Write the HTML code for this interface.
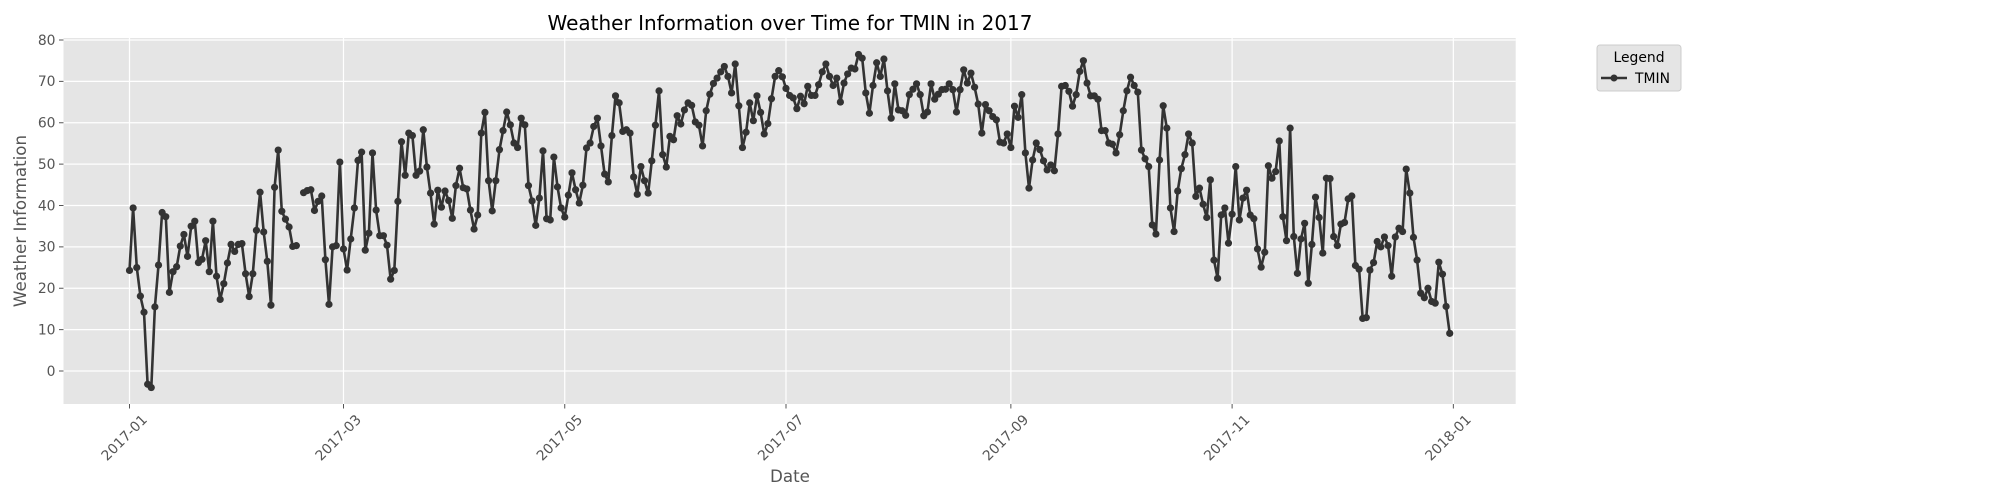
<!DOCTYPE html>
<html><head><meta charset="utf-8">
<style>
html,body{margin:0;padding:0;background:#fff;}
svg{display:block;font-family:"DejaVu Sans","Liberation Sans",sans-serif;}
</style></head>
<body>
<svg id="chart" width="2000" height="500" viewBox="0 0 2000 500" xmlns="http://www.w3.org/2000/svg">
  <text x="790" y="30" font-size="20" text-anchor="middle" fill="#000">Weather Information over Time for TMIN in 2017</text>
  <rect x="63.5" y="38" width="1452.2" height="366" fill="#E5E5E5"/>
  <g id="grid"></g>
  <g id="axes"></g>
  <g id="series"></g>
  <text x="790" y="482" font-size="16.7" text-anchor="middle" fill="#555">Date</text>
  <text x="0" y="0" font-size="16.7" text-anchor="middle" fill="#555" transform="translate(26,221) rotate(-90)">Weather Information</text>
  <g>
    <rect x="1597" y="45" width="84" height="46" rx="3" fill="#E5E5E5" stroke="#CCCCCC" stroke-width="1"/>
    <text x="1639" y="62" font-size="13.9" text-anchor="middle" fill="#000">Legend</text>
    <line x1="1601" y1="78" x2="1627" y2="78" stroke="#333" stroke-width="2.5"/>
    <circle cx="1614" cy="78" r="3.5" fill="#333"/>
    <text x="1635" y="83" font-size="13.9" fill="#000">TMIN</text>
  </g>
</svg>
<script>
const yTicks = [0,10,20,30,40,50,60,70,80];
const xTickLabels = ["2017-01","2017-03","2017-05","2017-07","2017-09","2017-11","2018-01"];
const xTickDays = [0,59,120,181,243,304,365];
const tmin = [
24.3,39.4,25,18.1,14.2,-3.2,-4,15.5,25.6,38.3,37.3,19,24,25.2,30.2,33,27.7,35,36.2,26.2,
27,31.5,24,36.2,22.9,17.3,21.1,26.1,30.6,28.9,30.6,30.8,23.5,18,23.5,34,43.2,33.6,26.5,15.9,
44.4,53.4,38.6,36.7,34.8,30.1,30.3,null,43.1,43.6,43.8,38.8,41,42.3,26.9,16.1,30,30.3,50.5,
29.5,24.4,31.9,39.4,50.9,52.9,29.2,33.3,52.7,38.9,32.7,32.7,30.4,22.2,24.3,41,55.4,47.3,57.5,56.9,
47.3,48.3,58.3,49.3,43,35.5,43.7,39.6,43.5,41.2,36.9,44.8,49,44.3,44,38.9,34.3,37.7,57.5,62.5,
46,38.7,46,53.5,58.1,62.6,59.5,55.1,54,61.1,59.5,44.8,41.1,35.2,41.8,53.2,36.8,36.5,51.7,44.5,39.4,
37.2,42.5,47.9,43.8,40.6,44.9,53.9,55.1,59.1,61.1,54.4,47.6,45.7,56.9,66.5,64.8,57.9,58.3,57.5,46.9,
42.7,49.4,46,43,50.8,59.4,67.7,52.3,49.3,56.7,55.9,61.7,59.7,63.1,64.8,64.2,60.2,59.4,54.4,62.9,
66.9,69.5,70.8,72.3,73.6,71.2,67.2,74.2,64.1,54,57.7,64.8,60.5,66.5,62.5,57.3,59.8,65.8,71.2,72.6,
71.1,68.3,66.6,66,63.4,66.4,64.6,68.8,66.6,66.6,69.2,72.3,74.2,71.2,69,70.8,65,69.6,71.8,73.2,
73,76.5,75.6,67.2,62.3,69,74.5,71.2,75.4,67.7,61.1,69.4,63.1,62.9,61.8,66.8,68.1,69.4,66.8,61.7,
62.6,69.4,65.7,66.9,68,68.1,69.4,68,62.6,68,72.8,69.6,72,68.6,64.5,57.5,64.4,62.9,61.5,60.7,
55.3,55.1,57.3,54,64,61.3,66.8,52.7,44.2,51,55.1,53.5,50.8,48.6,49.8,48.4,57.3,68.8,69,67.6,
64,66.8,72.4,75,69.6,66.5,66.5,65.7,58.1,58.1,55.1,54.8,52.7,57.1,62.9,67.7,71,69,67.4,53.4,
51.3,49.4,35.3,33.1,51,64.1,58.7,39.4,33.7,43.5,48.9,52.3,57.3,55.1,42.2,44.2,40.3,37.1,46.2,26.8,
22.4,37.7,39.4,30.9,37.9,49.4,36.5,41.8,43.7,37.7,36.8,29.5,25.1,28.7,49.6,46.6,48.2,55.6,37.3,31.5,
58.7,32.5,23.6,31.9,35.7,21.2,30.6,42,37.1,28.5,46.6,46.5,32.5,30.3,35.5,35.9,41.6,42.3,25.5,24.6,
12.7,12.9,24.4,26.2,31.3,30,32.4,30.3,22.9,32.4,34.5,33.7,48.8,43,32.3,26.8,18.8,17.7,20,16.8,
16.4,26.3,23.4,15.6,9.1
];
const NS = "http://www.w3.org/2000/svg";
const L = 63.5, R = 1515.7, T = 38, B = 404;
const X0 = 129.5, PXD = 3.627;
function xs(d){ return X0 + d * PXD; }
function ys(v){ return 371 - v * 4.1375; }
function mk(tag, attrs, parent){ const e = document.createElementNS(NS, tag); for (const k in attrs) e.setAttribute(k, attrs[k]); parent.appendChild(e); return e; }
const grid = document.getElementById('grid');
const axes = document.getElementById('axes');
const series = document.getElementById('series');
yTicks.forEach(v => {
  const y = ys(v);
  const g = mk('line', {x1:L, x2:R, y1:y, y2:y, stroke:'#fff', 'stroke-width':1.2}, grid);
  
  
  const t = mk('line', {x1:L-4.5, x2:L, y1:y, y2:y, stroke:'#555', 'stroke-width':1}, axes);
  
  
  const lb = mk('text', {x:L-8, y:y+4.8, 'font-size':13.9, 'text-anchor':'end', fill:'#555'}, axes);
  lb.textContent = String(v);
  
  
});
xTickDays.forEach((d, i) => {
  const x = xs(d);
  const g = mk('line', {x1:x, x2:x, y1:T, y2:B, stroke:'#fff', 'stroke-width':1.2}, grid);
  
  
  const t = mk('line', {x1:x, x2:x, y1:B, y2:B+4.5, stroke:'#555', 'stroke-width':1}, axes);
  
  
  const lb = mk('text', {x:0, y:0, 'font-size':13.9, 'text-anchor':'middle', fill:'#555', transform:`translate(${x-2},${441}) rotate(-45)`}, axes);
  lb.textContent = xTickLabels[i];
  
  
});
let segs = [], cur = [];
tmin.forEach((v, d) => {
  if (v === null) { if (cur.length) segs.push(cur); cur = []; }
  else cur.push([xs(d), ys(v)]);
});
if (cur.length) segs.push(cur);
segs.forEach(s => {
  const p = mk('polyline', {points: s.map(q => q[0].toFixed(1)+','+q[1].toFixed(1)).join(' '), fill:'none', stroke:'#333', 'stroke-width':2.6, 'stroke-linejoin':'round'}, series);
  
  
});
tmin.forEach((v, d) => {
  if (v === null) return;
  const c = mk('circle', {cx:xs(d), cy:ys(v), r:3.6, fill:'#333'}, series);
  
  
});
</script>
</body></html>
